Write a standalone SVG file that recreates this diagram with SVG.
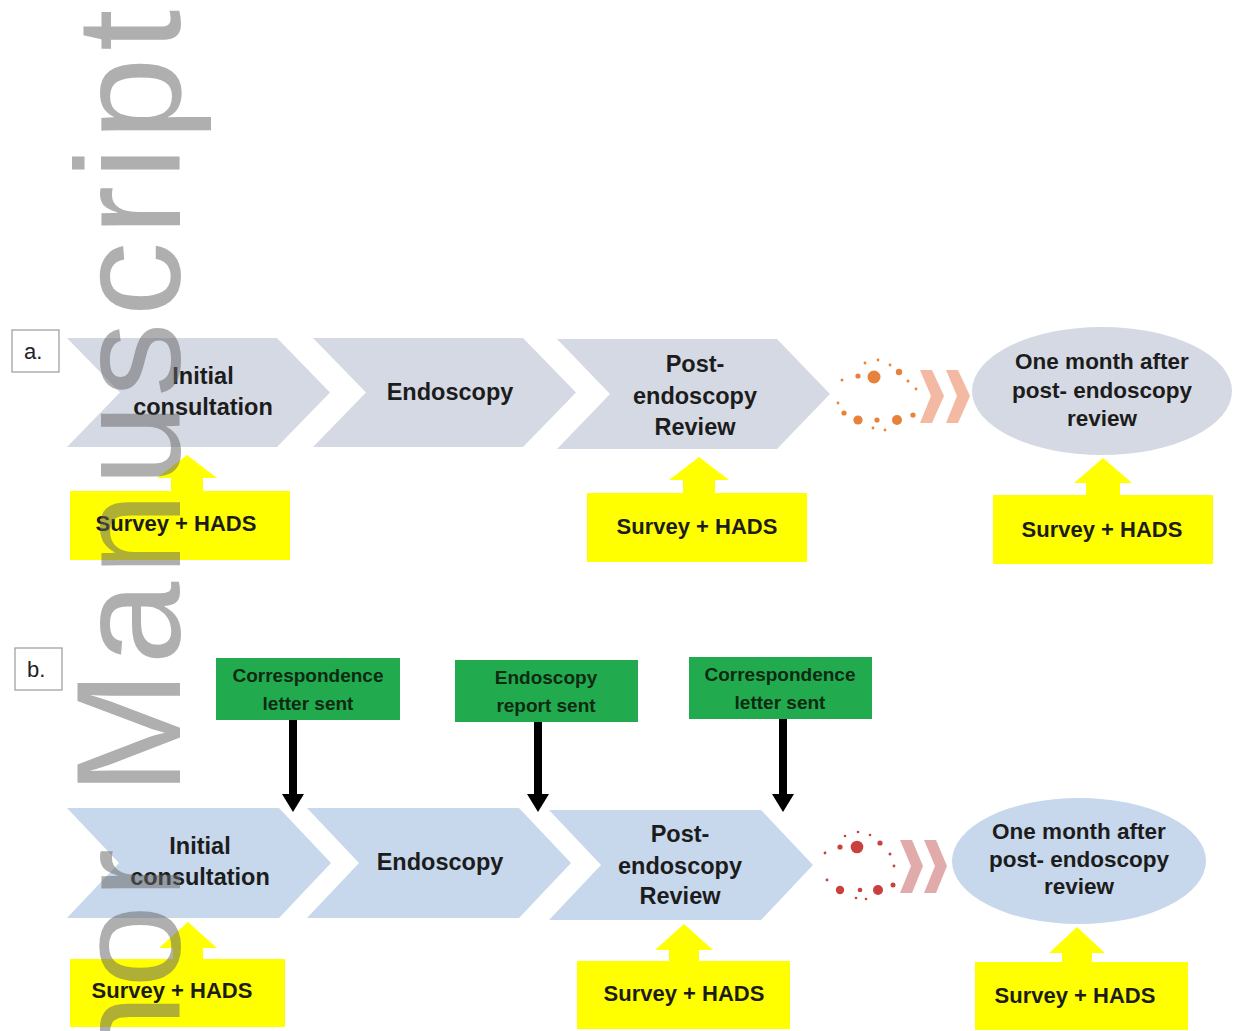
<svg xmlns="http://www.w3.org/2000/svg" width="1235" height="1031" viewBox="0 0 1235 1031">
<defs>
<style>
.t{font-family:"Liberation Sans",Arial,sans-serif;font-weight:bold;fill:#1c1c1c;text-anchor:middle}
.ch{font-size:23.5px}
.el{font-size:22.5px}
.sv{font-size:22px}
.gr{font-size:19px;fill:#0e2a12}
.ca{fill:#d5d9e3}
.cb{fill:#c7d7ec}
.yl{fill:#ffff00}
.gb{fill:#22aa4f}
.lab{fill:#fff;stroke:#9a9a9a;stroke-width:1.2}
.lt{font-family:"Liberation Sans",Arial,sans-serif;font-size:22px;fill:#222}
.od{fill:#e8823a}
.rd{fill:#c9403f}
.sa{fill:#f3b9a3}
.sb{fill:#e2abab}
</style>
</defs>
<rect width="1235" height="1031" fill="#ffffff"/>

<!-- Panel a -->
<g id="label-a"><rect class="lab" x="12" y="330" width="47" height="42"/><text class="lt" x="24" y="359">a.</text></g>
<g id="a-initial"><polygon class="ca" points="67,338 277,338 330,392.5 277,447 67,447 120,392.5"/><text class="t ch" x="203" y="384">Initial</text><text class="t ch" x="203" y="415">consultation</text></g>
<g id="a-endoscopy"><polygon class="ca" points="313,338 523,338 576,392.5 523,447 313,447 366,392.5"/><text class="t ch" x="450" y="400">Endoscopy</text></g>
<g id="a-post"><polygon class="ca" points="557,339 777,339 830,394 777,449 557,449 610,394"/><text class="t ch" x="695" y="372">Post-</text><text class="t ch" x="695" y="404">endoscopy</text><text class="t ch" x="695" y="435">Review</text></g>
<g id="a-dots">
<circle class="od" cx="874" cy="377" r="6.5"/><circle class="od" cx="899" cy="372" r="3.2"/><circle class="od" cx="858" cy="376" r="2.6"/><circle class="od" cx="842" cy="380" r="1.5"/><circle class="od" cx="865" cy="363" r="1.4"/><circle class="od" cx="878" cy="360" r="1.4"/><circle class="od" cx="890" cy="365" r="1.4"/><circle class="od" cx="908" cy="381" r="1.5"/><circle class="od" cx="916" cy="389" r="1.4"/><circle class="od" cx="838" cy="403" r="1.4"/><circle class="od" cx="844" cy="413" r="2.6"/><circle class="od" cx="858" cy="420" r="4.6"/><circle class="od" cx="877" cy="420" r="2.6"/><circle class="od" cx="897" cy="420" r="5"/><circle class="od" cx="913" cy="415" r="2.6"/><circle class="od" cx="873" cy="428" r="1.4"/><circle class="od" cx="885" cy="430" r="1.4"/>
<polygon class="sa" points="920,370 932,370 944,396 932,423 920,423 931,396"/><polygon class="sa" points="946,370 958,370 970,396 958,423 946,423 957,396"/>
</g>
<g id="a-month"><ellipse class="ca" cx="1102" cy="391" rx="130" ry="64"/><text class="t el" x="1102" y="369">One month after</text><text class="t el" x="1102" y="398">post- endoscopy</text><text class="t el" x="1102" y="426">review</text></g>
<g id="a-survey1"><rect class="yl" x="70" y="491" width="220" height="69"/><text class="t sv" x="176" y="531">Survey + HADS</text></g>
<g id="a-survey2"><rect class="yl" x="587" y="493" width="220" height="69"/><text class="t sv" x="697" y="534">Survey + HADS</text></g>
<g id="a-survey3"><rect class="yl" x="993" y="495" width="220" height="69"/><text class="t sv" x="1102" y="537">Survey + HADS</text></g>

<!-- Panel b -->
<g id="label-b"><rect class="lab" x="15" y="648" width="47" height="42"/><text class="lt" x="27" y="677">b.</text></g>
<g id="b-corr1"><rect class="gb" x="216" y="658" width="184" height="62"/><text class="t gr" x="308" y="682">Correspondence</text><text class="t gr" x="308" y="710">letter sent</text></g>
<g id="b-report"><rect class="gb" x="455" y="660" width="183" height="62"/><text class="t gr" x="546" y="684">Endoscopy</text><text class="t gr" x="546" y="712">report sent</text></g>
<g id="b-corr2"><rect class="gb" x="689" y="657" width="183" height="62"/><text class="t gr" x="780" y="681">Correspondence</text><text class="t gr" x="780" y="709">letter sent</text></g>
<g id="b-initial"><polygon class="cb" points="67,808 279,808 331,863 279,918 67,918 119,863"/><text class="t ch" x="200" y="854">Initial</text><text class="t ch" x="200" y="885">consultation</text></g>
<g id="b-endoscopy"><polygon class="cb" points="307,808 519,808 571,863 519,918 307,918 359,863"/><text class="t ch" x="440" y="870">Endoscopy</text></g>
<g id="b-post"><polygon class="cb" points="549,810 761,810 813,865 761,920 549,920 601,865"/><text class="t ch" x="680" y="842">Post-</text><text class="t ch" x="680" y="874">endoscopy</text><text class="t ch" x="680" y="904">Review</text></g>
<g id="b-dots">
<circle class="rd" cx="857" cy="847" r="6.3"/><circle class="rd" cx="840" cy="847" r="2.6"/><circle class="rd" cx="880" cy="843" r="2.6"/><circle class="rd" cx="890" cy="854" r="1.5"/><circle class="rd" cx="825" cy="853" r="1.4"/><circle class="rd" cx="845" cy="836" r="1.3"/><circle class="rd" cx="858" cy="832" r="1.3"/><circle class="rd" cx="870" cy="835" r="1.3"/><circle class="rd" cx="894" cy="866" r="1.4"/><circle class="rd" cx="827" cy="880" r="1.4"/><circle class="rd" cx="840" cy="890" r="4.2"/><circle class="rd" cx="860" cy="890" r="2.3"/><circle class="rd" cx="878" cy="890" r="5"/><circle class="rd" cx="893" cy="885" r="2.5"/><circle class="rd" cx="856" cy="898" r="1.3"/><circle class="rd" cx="866" cy="899" r="1.3"/>
<polygon class="sb" points="900,840 912,840 923,866 912,893 900,893 911,866"/><polygon class="sb" points="924,840 936,840 947,866 936,893 924,893 935,866"/>
</g>
<g id="b-month"><ellipse class="cb" cx="1079" cy="861" rx="127" ry="63"/><text class="t el" x="1079" y="839">One month after</text><text class="t el" x="1079" y="867">post- endoscopy</text><text class="t el" x="1079" y="894">review</text></g>
<g id="b-survey1"><rect class="yl" x="70" y="959" width="215" height="68"/><text class="t sv" x="172" y="998">Survey + HADS</text></g>
<g id="b-survey2"><rect class="yl" x="577" y="961" width="213" height="68"/><text class="t sv" x="684" y="1001">Survey + HADS</text></g>
<g id="b-survey3"><rect class="yl" x="975" y="962" width="213" height="68"/><text class="t sv" x="1075" y="1003">Survey + HADS</text></g>

<!-- Connectors -->
<g id="connectors">
<polygon class="yl" points="187,455 217,478 203,478 203,492 171,492 171,478 157,478"/>
<polygon class="yl" points="699,457 729,480 715,480 715,494 683,494 683,480 669,480"/>
<polygon class="yl" points="1103,458 1132,483 1120,483 1120,496 1086,496 1086,483 1074,483"/>
<polygon class="yl" points="188,922 217,948 203,948 203,960 173,960 173,948 159,948"/>
<polygon class="yl" points="684,924 713,950 699,950 699,962 669,962 669,950 655,950"/>
<polygon class="yl" points="1077,927 1105,953 1092,953 1092,963 1062,963 1062,953 1049,953"/>
<g fill="#000">
<rect x="289" y="720" width="8" height="76"/><polygon points="282,794 304,794 293,812"/>
<rect x="534" y="722" width="8" height="74"/><polygon points="527,794 549,794 538,812"/>
<rect x="779" y="719" width="8" height="77"/><polygon points="772,794 794,794 783,812"/>
</g>
</g>

<!-- Watermark -->
<text transform="translate(180,1319.5) rotate(-90)" font-family="Liberation Sans, Arial, sans-serif" font-size="149" letter-spacing="6.3" fill="#666666" fill-opacity="0.52">Author Manuscript</text>
</svg>
